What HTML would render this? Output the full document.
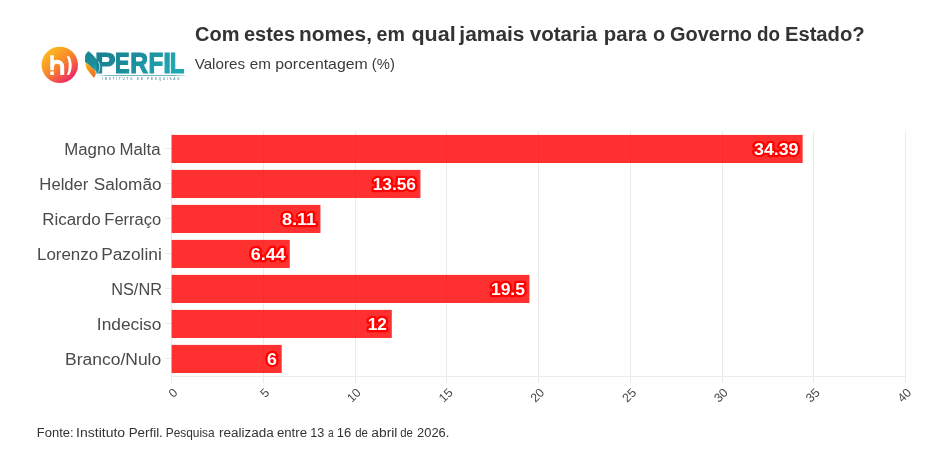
<!DOCTYPE html>
<html lang="pt-BR">
<head>
<meta charset="utf-8">
<title>Com estes nomes, em qual jamais votaria para o Governo do Estado?</title>
<style>
html,body{margin:0;padding:0;background:#fff;}
body{width:945px;height:462px;overflow:hidden;}
svg{display:block;will-change:transform;}
text{font-family:"Liberation Sans", Arial, Helvetica, sans-serif;}
.ylab{font-size:16px;fill:#4a4a4a;}
.val{font-size:15.8px;font-weight:bold;fill:#fff;stroke:#ff0000;stroke-width:4.4px;stroke-linejoin:round;paint-order:stroke fill;text-anchor:end;}
.xt{font-size:12.3px;fill:#474747;text-anchor:middle;}
</style>
</head>
<body>
<svg width="945" height="462" viewBox="0 0 945 462">
<defs>
<linearGradient id="hg" x1="0.15" y1="0.1" x2="0.85" y2="0.95"><stop offset="0" stop-color="#fcbf1c"/><stop offset="0.5" stop-color="#f7802e"/><stop offset="1" stop-color="#ee1a6e"/></linearGradient>
<linearGradient id="tg" x1="0" y1="0" x2="1" y2="0.35"><stop offset="0" stop-color="#187d8d"/><stop offset="0.55" stop-color="#1b8f9d"/><stop offset="1" stop-color="#1fa8b2"/></linearGradient>
<linearGradient id="lg" x1="0.2" y1="0" x2="0.8" y2="1"><stop offset="0" stop-color="#1a8493"/><stop offset="0.6" stop-color="#1c8f9c"/><stop offset="1" stop-color="#2db3ba"/></linearGradient>
<linearGradient id="ug" x1="0" y1="0" x2="1" y2="0"><stop offset="0" stop-color="#8fc9d1" stop-opacity="0.3"/><stop offset="0.12" stop-color="#5fb0bc"/><stop offset="0.88" stop-color="#5fb0bc"/><stop offset="1" stop-color="#8fc9d1" stop-opacity="0.4"/></linearGradient>
<linearGradient id="og" x1="0" y1="0" x2="0.9" y2="1"><stop offset="0" stop-color="#fdc010"/><stop offset="0.45" stop-color="#f7901e"/><stop offset="1" stop-color="#f26a21"/></linearGradient>
</defs>
<rect width="945" height="462" fill="#fff"/>
<text y="41.3" font-size="19.4" font-weight="bold" fill="#333">
<tspan x="195.05" textLength="44.34" lengthAdjust="spacingAndGlyphs">Com</tspan>
<tspan x="243.93" textLength="51.12" lengthAdjust="spacingAndGlyphs">estes</tspan>
<tspan x="299.11" textLength="72.83" lengthAdjust="spacingAndGlyphs">nomes,</tspan>
<tspan x="376.53" textLength="28.32" lengthAdjust="spacingAndGlyphs">em</tspan>
<tspan x="411.47" textLength="44.20" lengthAdjust="spacingAndGlyphs">qual</tspan>
<tspan x="459.38" textLength="65.14" lengthAdjust="spacingAndGlyphs">jamais</tspan>
<tspan x="529.75" textLength="67.45" lengthAdjust="spacingAndGlyphs">votaria</tspan>
<tspan x="603.89" textLength="43.02" lengthAdjust="spacingAndGlyphs">para</tspan>
<tspan x="652.92" textLength="12.18" lengthAdjust="spacingAndGlyphs">o</tspan>
<tspan x="670.04" textLength="82.02" lengthAdjust="spacingAndGlyphs">Governo</tspan>
<tspan x="756.98" textLength="23.00" lengthAdjust="spacingAndGlyphs">do</tspan>
<tspan x="784.92" textLength="79.75" lengthAdjust="spacingAndGlyphs">Estado?</tspan>
</text>
<text y="69.1" font-size="14.5" fill="#3c3c3c">
<tspan x="194.69" textLength="50.32" lengthAdjust="spacingAndGlyphs">Valores</tspan>
<tspan x="249.82" textLength="21.08" lengthAdjust="spacingAndGlyphs">em</tspan>
<tspan x="275.26" textLength="92.47" lengthAdjust="spacingAndGlyphs">porcentagem</tspan>
<tspan x="371.88" textLength="23.01" lengthAdjust="spacingAndGlyphs">(%)</tspan>
</text>
<g id="logo-h"><title>h)</title>
<circle cx="59.8" cy="64.9" r="18.2" fill="url(#hg)"/>
<g fill="none" stroke="#fff" stroke-linecap="butt">
<path d="M52.1 55.2V70.3M52.1 71.5V74.9" stroke-width="3.6"/>
<path d="M52.1 66.6C52.1 60.4 62.2 59.9 62.2 66.8V74.9" stroke-width="4"/>
</g>
<path d="M66.8 56.2L69.1 56.2C72.6 61.5 72.6 69.6 69.1 74.9L66.8 74.9C69.4 69.4 69.4 61.7 66.8 56.2Z" fill="#fff"/>
</g>
<g id="logo-perfil"><title>PERFIL - Instituto de Pesquisas</title>
<path d="M88.5 51.2C87.6 51.9 86.8 52.7 86.3 53.5C85.6 54.4 85.2 55.2 85.1 56.1L85 61.9L85.5 62.3C87.3 63.5 88.9 65 90.3 66.3C91.9 67.6 93.4 68.9 94.7 70.1C95.7 71 96.6 71.8 97.3 72.6L97.7 73.4C98.2 73.1 98.4 72.7 98.5 72.3C99.6 70.8 100.1 69 100 67.1C99.9 65.2 99.4 63.5 98.4 62C97 59.5 93.2 54.4 88.5 51.2Z" fill="url(#lg)"/>
<path d="M85.5 62.3C87.3 63.5 88.9 65 90.3 66.3C91.9 67.6 93.4 68.9 94.7 70.1C95.5 71 95.8 72 95.8 73C95.8 74 95.6 75 95.1 75.9C94.7 76.6 94.2 77.3 93.6 77.9C93 76.6 92 75.5 91 74.5C90 73.3 89 72 88.1 70.8C87 69.3 86.2 67.8 85.9 66.4C85.6 65 85.5 63.6 85.5 62.3Z" fill="url(#og)"/>
<text y="72.7" font-size="28.7" font-weight="bold" fill="url(#tg)" stroke="url(#tg)" stroke-width="1.2"><tspan x="95.01" textLength="20.64" lengthAdjust="spacingAndGlyphs">P</tspan><tspan x="115.04" textLength="14.63" lengthAdjust="spacingAndGlyphs">E</tspan><tspan x="130.33" textLength="17.77" lengthAdjust="spacingAndGlyphs">R</tspan><tspan x="148.58" textLength="14.73" lengthAdjust="spacingAndGlyphs">F</tspan><tspan x="163.14" textLength="7.76" lengthAdjust="spacingAndGlyphs">I</tspan><tspan x="169.85" textLength="14.57" lengthAdjust="spacingAndGlyphs">L</tspan></text>
<path d="M98.3 61.4C99.3 63.2 99.8 65 99.8 67C99.8 69 99.2 71 98.1 72.8" fill="none" stroke="#fff" stroke-width="0.75" stroke-opacity="0.92"/>
<rect x="97.5" y="75.1" width="88" height="0.9" fill="url(#ug)"/>
<text x="102.1" y="80.2" font-size="3.1" font-weight="bold" fill="#256a82" fill-opacity="0.7" textLength="77.2" lengthAdjust="spacing">INSTITUTO DE PESQUISAS</text>
</g>
<g id="grid" fill="#ebebeb" shape-rendering="crispEdges">
<rect x="171" y="131" width="1" height="252"/>
<rect x="263" y="131" width="1" height="252"/>
<rect x="355" y="131" width="1" height="252"/>
<rect x="446" y="131" width="1" height="252"/>
<rect x="538" y="131" width="1" height="252"/>
<rect x="630" y="131" width="1" height="252"/>
<rect x="722" y="131" width="1" height="252"/>
<rect x="813" y="131" width="1" height="252"/>
<rect x="905" y="131" width="1" height="252"/>
<rect x="172" y="376" width="733" height="1"/>
<rect x="165" y="148" width="6" height="1"/>
<rect x="165" y="183" width="6" height="1"/>
<rect x="165" y="218" width="6" height="1"/>
<rect x="165" y="253" width="6" height="1"/>
<rect x="165" y="288" width="6" height="1"/>
<rect x="165" y="323" width="6" height="1"/>
<rect x="165" y="358" width="6" height="1"/>
</g>
<g id="bars">
<rect x="171.6" y="134.90" width="631.06" height="28.1" fill="#ff0000" fill-opacity="0.81"/>
<rect x="171.6" y="169.90" width="248.83" height="28.1" fill="#ff0000" fill-opacity="0.81"/>
<rect x="171.6" y="204.90" width="148.82" height="28.1" fill="#ff0000" fill-opacity="0.81"/>
<rect x="171.6" y="239.90" width="118.17" height="28.1" fill="#ff0000" fill-opacity="0.81"/>
<rect x="171.6" y="274.90" width="357.83" height="28.1" fill="#ff0000" fill-opacity="0.81"/>
<rect x="171.6" y="309.90" width="220.20" height="28.1" fill="#ff0000" fill-opacity="0.81"/>
<rect x="171.6" y="344.90" width="110.10" height="28.1" fill="#ff0000" fill-opacity="0.81"/>
</g>
<g id="labels">
<text class="ylab" y="155.0">
<tspan x="64.22" textLength="51.44" lengthAdjust="spacingAndGlyphs">Magno</tspan>
<tspan x="119.45" textLength="41.06" lengthAdjust="spacingAndGlyphs">Malta</tspan>
</text>
<text class="ylab" y="190.0">
<tspan x="39.36" textLength="49.06" lengthAdjust="spacingAndGlyphs">Helder</tspan>
<tspan x="93.75" textLength="67.77" lengthAdjust="spacingAndGlyphs">Salomão</tspan>
</text>
<text class="ylab" y="225.0">
<tspan x="42.18" textLength="58.42" lengthAdjust="spacingAndGlyphs">Ricardo</tspan>
<tspan x="104.32" textLength="56.77" lengthAdjust="spacingAndGlyphs">Ferraço</tspan>
</text>
<text class="ylab" y="260.0">
<tspan x="36.99" textLength="61.19" lengthAdjust="spacingAndGlyphs">Lorenzo</tspan>
<tspan x="101.16" textLength="60.63" lengthAdjust="spacingAndGlyphs">Pazolini</tspan>
</text>
<text class="ylab" y="295.0">
<tspan x="111.20" textLength="50.79" lengthAdjust="spacingAndGlyphs">NS/NR</tspan>
</text>
<text class="ylab" y="330.0">
<tspan x="96.89" textLength="64.49" lengthAdjust="spacingAndGlyphs">Indeciso</tspan>
</text>
<text class="ylab" y="365.0">
<tspan x="65.10" textLength="96.09" lengthAdjust="spacingAndGlyphs">Branco/Nulo</tspan>
</text>
<text class="val" x="798.5" y="154.6" textLength="44.4" lengthAdjust="spacingAndGlyphs">34.39</text>
<text class="val" x="416.0" y="189.6" textLength="43.3" lengthAdjust="spacingAndGlyphs">13.56</text>
<text class="val" x="316.1" y="224.6" textLength="34.2" lengthAdjust="spacingAndGlyphs">8.11</text>
<text class="val" x="285.6" y="259.6" textLength="34.9" lengthAdjust="spacingAndGlyphs">6.44</text>
<text class="val" x="525.0" y="294.6" textLength="34.1" lengthAdjust="spacingAndGlyphs">19.5</text>
<text class="val" x="386.9" y="329.6" textLength="19.1" lengthAdjust="spacingAndGlyphs">12</text>
<text class="val" x="277.0" y="364.6" textLength="9.9" lengthAdjust="spacingAndGlyphs">6</text>
</g>
<g id="xticks">
<text class="xt" transform="translate(172.9 392.7) rotate(-45)" y="4.3">0</text>
<text class="xt" transform="translate(264.7 392.7) rotate(-45)" y="4.3">5</text>
<text class="xt" transform="translate(353.8 395.1) rotate(-45)" y="4.3">10</text>
<text class="xt" transform="translate(445.6 395.1) rotate(-45)" y="4.3">15</text>
<text class="xt" transform="translate(537.3 395.1) rotate(-45)" y="4.3">20</text>
<text class="xt" transform="translate(629.1 395.1) rotate(-45)" y="4.3">25</text>
<text class="xt" transform="translate(720.8 395.1) rotate(-45)" y="4.3">30</text>
<text class="xt" transform="translate(812.6 395.1) rotate(-45)" y="4.3">35</text>
<text class="xt" transform="translate(904.3 395.1) rotate(-45)" y="4.3">40</text>
</g>
<text y="437.1" font-size="12" fill="#333">
<tspan x="36.88" textLength="36.80" lengthAdjust="spacingAndGlyphs">Fonte:</tspan>
<tspan x="76.09" textLength="49.09" lengthAdjust="spacingAndGlyphs">Instituto</tspan>
<tspan x="128.66" textLength="34.18" lengthAdjust="spacingAndGlyphs">Perfil.</tspan>
<tspan x="165.78" textLength="48.82" lengthAdjust="spacingAndGlyphs">Pesquisa</tspan>
<tspan x="218.90" textLength="54.76" lengthAdjust="spacingAndGlyphs">realizada</tspan>
<tspan x="276.93" textLength="30.10" lengthAdjust="spacingAndGlyphs">entre</tspan>
<tspan x="310.23" textLength="14.15" lengthAdjust="spacingAndGlyphs">13</tspan>
<tspan x="328.05" textLength="5.62" lengthAdjust="spacingAndGlyphs">a</tspan>
<tspan x="336.84" textLength="14.41" lengthAdjust="spacingAndGlyphs">16</tspan>
<tspan x="355.15" textLength="12.67" lengthAdjust="spacingAndGlyphs">de</tspan>
<tspan x="371.34" textLength="26.02" lengthAdjust="spacingAndGlyphs">abril</tspan>
<tspan x="400.15" textLength="12.67" lengthAdjust="spacingAndGlyphs">de</tspan>
<tspan x="417.08" textLength="32.26" lengthAdjust="spacingAndGlyphs">2026.</tspan>
</text>
</svg>
</body>
</html>
